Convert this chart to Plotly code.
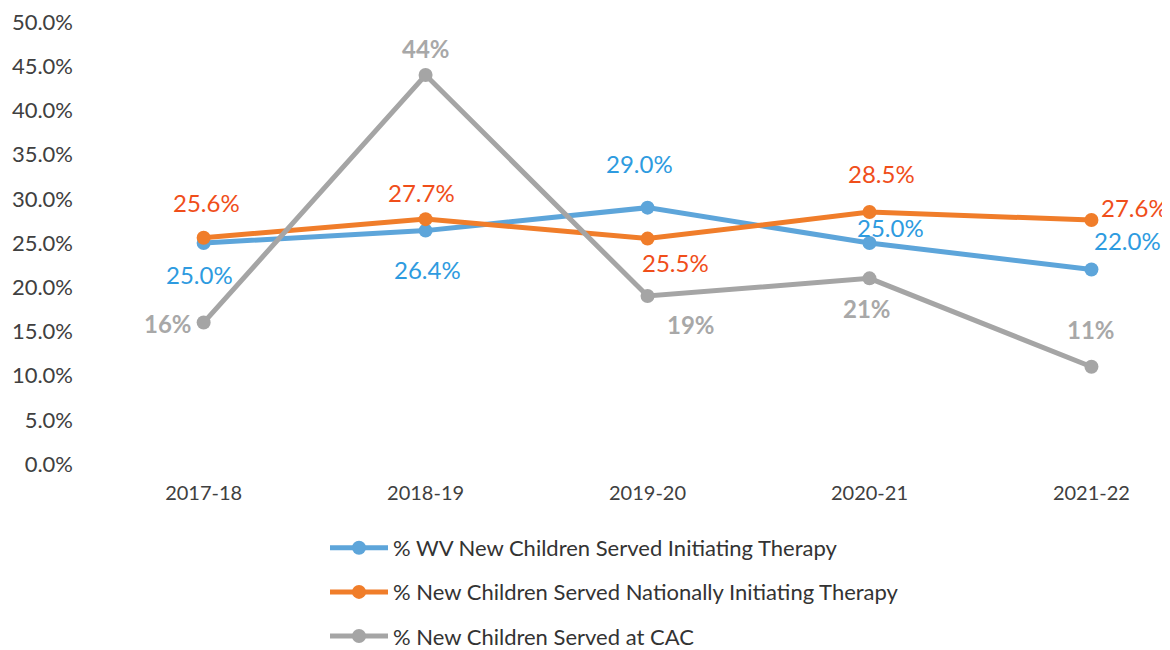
import plotly.graph_objects as go

years = ["2017-18", "2018-19", "2019-20", "2020-21", "2021-22"]
wv_values = [0.250, 0.264, 0.290, 0.250, 0.220]
nat_values = [0.256, 0.277, 0.255, 0.285, 0.276]
cac_values = [0.16, 0.44, 0.19, 0.21, 0.11]
wv_labels = ["25.0%", "26.4%", "29.0%", "25.0%", "22.0%"]
nat_labels = ["25.6%", "27.7%", "25.5%", "28.5%", "27.6%"]
cac_labels = ["16%", "44%", "19%", "21%", "11%"]
y_ticks = [i * 0.05 for i in range(11)]
y_tick_labels = ["0.0%", "5.0%", "10.0%", "15.0%", "20.0%", "25.0%",
                 "30.0%", "35.0%", "40.0%", "45.0%", "50.0%"]

FONT = "Lato, 'Open Sans', sans-serif"

series = [
    dict(name="% WV New Children Served Initiating Therapy", y=wv_values,
         labels=wv_labels, line="#5DA5DA", text="#2E9BE0", bold=False,
         offsets=[(-4, -31), (2, -39), (-8, 44), (21, 16), (36, 29)]),
    dict(name="% New Children Served Nationally Initiating Therapy", y=nat_values,
         labels=nat_labels, line="#F07D2A", text="#F04E1A", bold=False,
         offsets=[(3, 35), (-4, 27), (28, -24), (12, 39), (43, 13)]),
    dict(name="% New Children Served at CAC", y=cac_values,
         labels=cac_labels, line="#A5A5A5", text="#A8A8A8", bold=True,
         offsets=[(-36, -1), (0, 27), (43, -28), (-2, -30), (0, 37)]),
]

fig = go.Figure()
annotations = []
for i, s in enumerate(series):
    fig.add_trace(go.Scatter(
        x=years, y=s["y"], name=s["name"], mode="lines+markers",
        line=dict(color=s["line"], width=5),
        marker=dict(color=s["line"], size=14),
        legendgroup=f"g{i}",
    ))
    for xv, yv, lab, (dx, dy) in zip(years, s["y"], s["labels"], s["offsets"]):
        txt = f"<b>{lab}</b>" if s["bold"] else lab
        annotations.append(dict(
            x=xv, y=yv, xref="x", yref="y", text=txt, showarrow=False,
            xshift=dx, yshift=dy,
            font=dict(family=FONT, size=24, color=s["text"]),
        ))

fig.update_layout(
    width=1170, height=650,
    paper_bgcolor="white", plot_bgcolor="white",
    margin=dict(l=88, r=0, t=14, b=194, autoexpand=False),
    font=dict(family=FONT, size=18, color="#404040"),
    annotations=annotations,
    showlegend=True,
    legend=dict(
        xref="container", yref="container",
        x=317 / 1170, y=1 - 519 / 650, xanchor="left", yanchor="top",
        orientation="v", itemwidth=58, tracegroupgap=12.5,
        font=dict(family=FONT, size=22, color="#333333"),
        bgcolor="rgba(0,0,0,0)",
    ),
    xaxis=dict(
        type="category", range=[-0.485, 4.39],
        showgrid=False, zeroline=False, showline=False, ticks="",
        tickangle=0, ticklabelstandoff=15,
        tickfont=dict(family=FONT, size=20, color="#404040"),
    ),
    yaxis=dict(
        range=[0, 0.5], tickvals=y_ticks, ticktext=y_tick_labels,
        showgrid=False, zeroline=False, showline=False, ticks="",
        tickfont=dict(family=FONT, size=22, color="#404040"),
        ticklabelstandoff=22, ticklabeloverflow="allow",
    ),
)

fig.write_html("out.html")
